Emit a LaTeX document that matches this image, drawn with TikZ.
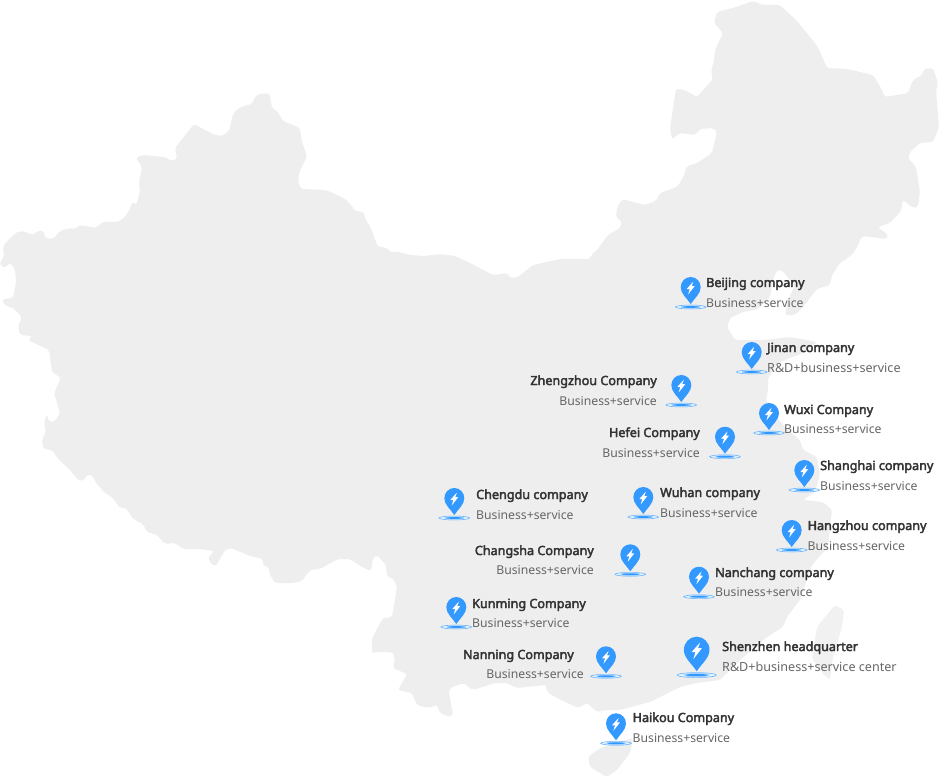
\documentclass[tikz,border=0pt]{standalone}
\usepackage{fontspec}
\setmainfont{Noto Sans}
\newfontfamily\titlefont{Noto Sans}[FakeBold=3]
\definecolor{landgrey}{HTML}{EEEEEE}
\definecolor{islegrey}{HTML}{F1F1F1}
\definecolor{pinblue}{HTML}{3399FF}
\definecolor{ringblue}{HTML}{66B3FF}
\definecolor{ringfill}{HTML}{E6F3FF}
\definecolor{haloblue}{HTML}{A8D3FC}
\definecolor{titlegrey}{HTML}{333333}
\definecolor{subgrey}{HTML}{666666}
\tikzset{
  land/.style={fill=landgrey,draw=none,rounded corners=2pt},
  citytitle/.style={inner sep=0pt,text=titlegrey,font=\fontsize{12.6}{14}\titlefont},
  citysub/.style={inner sep=0pt,text=subgrey,font=\fontsize{12.2}{14}\selectfont},
  citysubwide/.style={inner sep=0pt,text=subgrey,font=\fontsize{12.58}{14}\selectfont},
  citypin/.pic={
    \draw[ringblue,fill=ringfill,line width=0.6pt] (0,30) ellipse [x radius=15.3,y radius=1.9];
    \fill[haloblue] (0,30) ellipse [x radius=10,y radius=2.1];
    \fill[pinblue] (0,30) ellipse [x radius=8.5,y radius=0.9];
    \fill[pinblue] (0,27) .. controls (-4,21) and (-10,16.5) .. (-10,10.3)
       .. controls (-10,4.6) and (-5.6,0) .. (0,0)
       .. controls (5.6,0) and (10,4.6) .. (10,10.3)
       .. controls (10,16.5) and (4,21) .. (0,27) -- cycle;
    \fill[white,rounded corners=0.3pt] (2.6,4.6) -- (-4,12) -- (-1,12) -- (-2.6,17.5) -- (4,9) -- (1,9) -- cycle;
  }
}
\begin{document}
\begin{tikzpicture}[x=1pt,y=-1pt]
\useasboundingbox (0,0) rectangle (940,778);
% mainland
\path[land]
 (0,265) -- (1,260) -- (4,257) -- (3,246) -- (10,238) -- (19,231) -- (26,232) -- (32,235) -- (35,234) -- (37,231) -- (44,231) -- (45,238) -- (53,239) -- (60,231) -- (70,228) -- (75,229) -- (80,225) -- (96,228) -- (102,222) -- (118,222) -- (125,217) -- (130,209) -- (131,204) -- (134,202) -- (136,205) -- (140,192) -- (139,182) -- (142,167) -- (136,158) -- (142,155) -- (165,157) -- (172,161) -- (177,159) -- (175,148) -- (194,124) -- (205,130) -- (215,135) -- (222,136) -- (229,131) -- (232,118) -- (234,112) -- (243,106) -- (252,104) -- (256,95) -- (268,93) -- (270,95) -- (272,108) -- (278,112) -- (283,121) -- (298,127) -- (300,129) -- (302,142) -- (307,156) -- (299,173) -- (298,181) -- (301,189) -- (325,190) -- (333,193) -- (345,199) -- (352,206) -- (355,211) -- (364,212) -- (365,219) -- (370,226) -- (378,247) -- (383,247) -- (388,249) -- (392,253) -- (395,251) -- (410,255) -- (425,256) -- (440,254) -- (455,256) -- (470,263)
 -- (493,275) -- (507,273) -- (510,278) -- (518,277) -- (533,265) -- (560,259) -- (590,259) -- (591,255) -- (597,250) -- (608,235) -- (620,228) -- (622,222) -- (616,217) -- (617,207) -- (623,199) -- (633,202) -- (645,205) -- (656,201) -- (660,193) -- (677,187) -- (683,178) -- (687,166) -- (697,163) -- (712,153) -- (717,132) -- (713,128) -- (700,129) -- (695,135) -- (680,133) -- (672,139) -- (670,128) -- (676,89) -- (685,90) -- (697,97) -- (713,79) -- (711,73) -- (714,60) -- (715,50) -- (723,33) -- (714,23) -- (717,12) -- (733,8) -- (753,1) -- (763,5) -- (780,5) -- (798,22) -- (818,47) -- (827,68) -- (847,69) -- (873,75) -- (881,88) -- (885,97) -- (908,93) -- (913,80) -- (922,75) -- (924,69) -- (933,68) -- (938,83) -- (936,90) -- (939,127) -- (933,142) -- (920,143) -- (910,152) -- (908,158) -- (916,167) -- (920,192) -- (918,207) -- (913,208) -- (903,200) -- (901,211) -- (890,223) -- (878,227) -- (888,235) -- (887,239) -- (862,236) -- (857,247) -- (852,255) -- (840,263) -- (832,275) -- (830,285) -- (817,289) -- (803,307) -- (795,315) -- (785,315)
 -- (788,300) -- (795,285) -- (788,278) -- (783,271) -- (777,270) -- (773,280) -- (770,297) -- (758,309) -- (743,312) -- (730,318) -- (727,327) -- (735,340) -- (763,340) -- (790,337) -- (817,342) -- (803,353) -- (790,358) -- (778,363) -- (768,378) -- (768,390) -- (766,400) -- (772,412) -- (785,427) -- (800,440) -- (803,450) -- (817,457) -- (820,475) -- (815,492) -- (803,500) -- (823,502) -- (832,510) -- (830,527) -- (828,547) -- (812,565) -- (800,600) -- (787,617) -- (783,627) -- (767,637) -- (740,660) -- (720,680) -- (697,683) -- (680,687) -- (650,702) -- (620,710) -- (607,710) -- (597,712) -- (587,703) -- (578,708) -- (557,698) -- (547,692) -- (546,685) -- (517,688) -- (507,683) -- (495,683) -- (473,690) -- (463,683) -- (450,688) -- (449,693) -- (453,715) -- (450,717) -- (440,713) -- (437,705) -- (428,708) -- (417,705) -- (412,693) -- (398,690) -- (407,674) -- (393,668) -- (395,657) -- (392,652) -- (380,652) -- (372,653) -- (372,638) -- (383,618) -- (392,617) -- (397,587) -- (393,578) -- (387,577) -- (386,565) -- (377,555) -- (373,558) -- (371,571) -- (362,567) -- (350,559) -- (338,559) -- (320,569) -- (310,570) -- (302,581) -- (293,583) -- (275,583) -- (269,573) -- (269,567) -- (263,566) -- (263,559) -- (250,556) -- (231,548) -- (225,550) -- (216,566) -- (212,565) -- (208,558) -- (214,551) -- (200,549) -- (183,549) -- (175,543) -- (165,544) -- (157,535) -- (147,532) -- (143,524) -- (133,519) -- (126,508) -- (120,508) -- (112,497) -- (105,493) -- (95,482) -- (94,477) -- (88,474) -- (83,481) -- (78,480) -- (70,470) -- (59,460) -- (52,450) -- (43,449) -- (42,440) -- (46,431) -- (44,423) -- (47,414) -- (49,422) -- (55,421) -- (60,413) -- (54,393) -- (61,378) -- (52,372) -- (49,350) -- (28,340) -- (32,336) -- (20,335) -- (18,327) -- (22,317) -- (12,307) -- (8,307) -- (2,302) -- (3,299) -- (13,298) -- (16,282) -- (15,269) -- (10,263) -- (5,268) -- cycle;
% Hainan
\path[land] (600,748) -- (633,738) -- (630,753) -- (617,770) -- (607,777) -- (590,767) -- (588,757) -- cycle;
% Taiwan
\path[land,fill=islegrey] (835,605) -- (844,610) -- (842,627) -- (833,657) -- (830,680) -- (822,673) -- (812,658) -- (817,627) -- cycle;
% pins
\pic (pinbj) at (690.7,277) {citypin};
\pic (pinjn) at (751.7,342) {citypin};
\pic (pinzz) at (681.3,375) {citypin};
\pic (pinwx) at (769,403) {citypin};
\pic (pinhf) at (725,426.7) {citypin};
\pic (pinsh) at (804.3,460) {citypin};
\pic (pincd) at (454.3,488) {citypin};
\pic (pinwh) at (643.3,487) {citypin};
\pic (pinhz) at (791.7,520) {citypin};
\pic (pincs) at (630.3,544.3) {citypin};
\pic (pinnc) at (699,566.7) {citypin};
\pic (pinkm) at (456.3,597) {citypin};
\pic (pinnn) at (606,646.3) {citypin};
\pic[scale=1.28] (pinsz) at (696.7,636.7) {citypin};
\pic (pinhk) at (616,713.3) {citypin};
% labels
\node[citytitle,anchor=base west] (tbj) at (706,287) {Beijing company};
\node[citysub,anchor=base west] (sbj) at (706,307) {Business+service};
\node[citytitle,anchor=base west] (tjn) at (767,352) {Jinan company};
\node[citysubwide,anchor=base west] (sjn) at (767,372) {R\&D+business+service};
\node[citytitle,anchor=base east] (tzz) at (657,385) {Zhengzhou Company};
\node[citysub,anchor=base east] (szz) at (657,405) {Business+service};
\node[citytitle,anchor=base west] (twx) at (784,414) {Wuxi Company};
\node[citysub,anchor=base west] (swx) at (784,433) {Business+service};
\node[citytitle,anchor=base east] (thf) at (700,437) {Hefei Company};
\node[citysub,anchor=base east] (shf) at (700,457) {Business+service};
\node[citytitle,anchor=base west] (tsh) at (820,470) {Shanghai company};
\node[citysub,anchor=base west] (ssh) at (820,490) {Business+service};
\node[citytitle,anchor=base west] (tcd) at (476,499) {Chengdu company};
\node[citysub,anchor=base west] (scd) at (476,519) {Business+service};
\node[citytitle,anchor=base west] (twh) at (660,497) {Wuhan company};
\node[citysub,anchor=base west] (swh) at (660,517) {Business+service};
\node[citytitle,anchor=base west] (thz) at (807.5,530) {Hangzhou company};
\node[citysub,anchor=base west] (shz) at (807.5,550) {Business+service};
\node[citytitle,anchor=base east] (tcs) at (594,555) {Changsha Company};
\node[citysub,anchor=base east] (scs) at (594,574) {Business+service};
\node[citytitle,anchor=base west] (tnc) at (715,577) {Nanchang company};
\node[citysub,anchor=base west] (snc) at (715,596) {Business+service};
\node[citytitle,anchor=base west] (tkm) at (472,608) {Kunming Company};
\node[citysub,anchor=base west] (skm) at (472,627) {Business+service};
\node[citytitle,anchor=base east] (tnn) at (574,659) {Nanning Company};
\node[citysub,anchor=base east] (snn) at (584,678) {Business+service};
\node[citytitle,anchor=base west] (tsz) at (722,651) {Shenzhen headquarter};
\node[citysubwide,anchor=base west] (ssz) at (722,671) {R\&D+business+service center};
\node[citytitle,anchor=base west] (thk) at (632.5,722) {Haikou Company};
\node[citysub,anchor=base west] (shk) at (632.5,742) {Business+service};
\end{tikzpicture}
\end{document}
